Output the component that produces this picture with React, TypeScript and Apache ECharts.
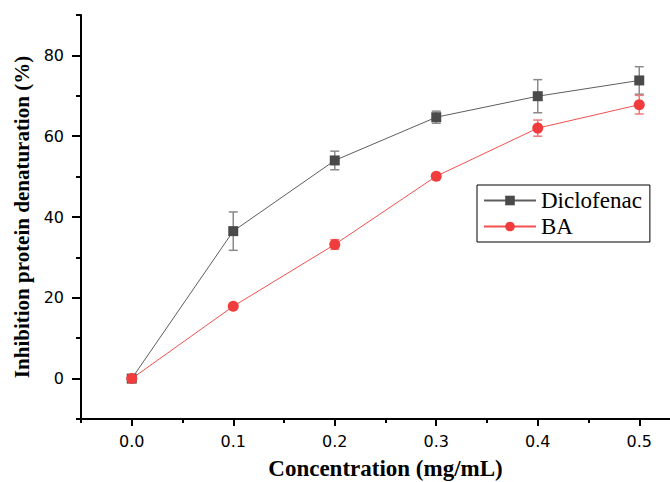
import React, { useEffect, useRef } from "react";
import * as echarts from "echarts";

const concentrations = [0, 0.1, 0.2, 0.3, 0.4, 0.5];
const diclofenac = [0, 36.5, 54.0, 64.7, 69.9, 73.8];
const diclofenacErr = [0, 4.75, 2.3, 1.5, 4.1, 3.4];
const ba = [0, 17.9, 33.2, 50.1, 62.0, 67.8];
const baErr = [0, 0.3, 1.2, 0.5, 2.0, 2.3];

const xMajor = [0, 0.1, 0.2, 0.3, 0.4, 0.5];
const xMinor = [-0.05, 0.05, 0.15, 0.25, 0.35, 0.45, 0.55];
const yMajor = [0, 20, 40, 60, 80];
const yMinor = [-10, 10, 30, 50, 70, 90];

const DIC_COLOR = "#4a4a4a";
const DIC_LINE = "#5e5e5e";
const DIC_ERR = "#8a8a8a";
const BA_COLOR = "#f03c3c";
const BA_LINE = "#f35050";
const BA_ERR = "#f07878";

function errorSeries(name: string, means: number[], errs: number[], color: string, z: number) {
  const data = concentrations.map((x, i) => [x, means[i] - errs[i], means[i] + errs[i]]);
  return {
    type: "custom",
    name: name + " err",
    z,
    silent: true,
    data,
    renderItem: (_params: any, api: any) => {
      const x = api.value(0);
      const top = api.coord([x, api.value(2)]);
      const bot = api.coord([x, api.value(1)]);
      const hw = 4.5;
      const style = { stroke: color, lineWidth: 1.5 };
      if (Math.abs(top[1] - bot[1]) < 0.5) return { type: "group", children: [] };
      return {
        type: "group",
        children: [
          { type: "line", shape: { x1: top[0], y1: top[1], x2: bot[0], y2: bot[1] }, style },
          { type: "line", shape: { x1: top[0] - hw, y1: top[1], x2: top[0] + hw, y2: top[1] }, style },
          { type: "line", shape: { x1: bot[0] - hw, y1: bot[1], x2: bot[0] + hw, y2: bot[1] }, style },
        ],
      };
    },
  };
}

export default function App() {
  const ref = useRef<HTMLDivElement>(null);
  useEffect(() => {
    if (!ref.current) return;
    const chart = echarts.init(ref.current, undefined, { renderer: "svg" });
    const tickFont = { fontFamily: "DejaVu Sans", fontSize: 16, color: "#000" };
    chart.setOption({
      animation: false,
      backgroundColor: "#fff",
      grid: { left: 81, right: -20, top: 15, bottom: 63, containLabel: false, outerBoundsMode: "none" },
      legend: {
        data: [{ name: "Diclofenac" }, { name: "BA" }],
        orient: "vertical",
        left: 477,
        top: 185,
        itemWidth: 52,
        itemHeight: 12,
        itemGap: 3,
        padding: [4, 8, 4, 6],
        borderColor: "#000",
        borderWidth: 1,
        textStyle: { fontFamily: "Liberation Serif", fontSize: 23, color: "#000" },
      },
      xAxis: [
        {
          type: "value",
          position: "bottom",
          min: -0.05,
          max: 0.55,
          name: "Concentration (mg/mL)",
          nameLocation: "middle",
          nameGap: 38,
          nameTextStyle: { fontFamily: "Liberation Serif", fontWeight: "bold", fontSize: 23, color: "#000" },
          axisLine: { show: true, onZero: false, lineStyle: { color: "#000", width: 2 } },
          axisTick: { show: true, customValues: xMajor, length: 7, lineStyle: { color: "#000", width: 2 } },
          axisLabel: { ...tickFont, margin: 14, customValues: xMajor, formatter: (v: number) => v.toFixed(1) },
          splitLine: { show: false },
        },
        {
          type: "value",
          position: "bottom",
          min: -0.05,
          max: 0.55,
          axisLine: { show: false, onZero: false },
          axisTick: { show: true, customValues: xMinor, length: 4, lineStyle: { color: "#000", width: 2 } },
          axisLabel: { show: false },
          splitLine: { show: false },
        },
      ],
      yAxis: [
        {
          type: "value",
          position: "left",
          min: -10,
          max: 90,
          name: "Inhibition protein denaturation (%)",
          nameLocation: "middle",
          nameGap: 47,
          nameTextStyle: { fontFamily: "Liberation Serif", fontWeight: "bold", fontSize: 21, color: "#000" },
          axisLine: { show: true, onZero: false, lineStyle: { color: "#000", width: 2 } },
          axisTick: { show: true, customValues: yMajor, length: 9, lineStyle: { color: "#000", width: 2 } },
          axisLabel: { ...tickFont, margin: 17, customValues: yMajor },
          splitLine: { show: false },
        },
        {
          type: "value",
          position: "left",
          min: -10,
          max: 90,
          axisLine: { show: false, onZero: false },
          axisTick: { show: true, customValues: yMinor, length: 5, lineStyle: { color: "#000", width: 2 } },
          axisLabel: { show: false },
          splitLine: { show: false },
        },
      ],
      series: [
        errorSeries("Diclofenac", diclofenac, diclofenacErr, DIC_ERR, 1),
        {
          type: "line",
          name: "Diclofenac",
          z: 2,
          data: concentrations.map((x, i) => [x, diclofenac[i]]),
          symbol: "rect",
          symbolSize: 10,
          itemStyle: { color: DIC_COLOR },
          lineStyle: { color: DIC_LINE, width: 1 },
        },
        errorSeries("BA", ba, baErr, BA_ERR, 3),
        {
          type: "line",
          name: "BA",
          z: 4,
          data: concentrations.map((x, i) => [x, ba[i]]),
          symbol: "circle",
          symbolSize: 11,
          itemStyle: { color: BA_COLOR },
          lineStyle: { color: BA_LINE, width: 1 },
        },
      ],
    });
    return () => chart.dispose();
  }, []);
  return <div ref={ref} style={{ width: 670, height: 482, position: "fixed", left: 0, top: 0 }} />;
}
